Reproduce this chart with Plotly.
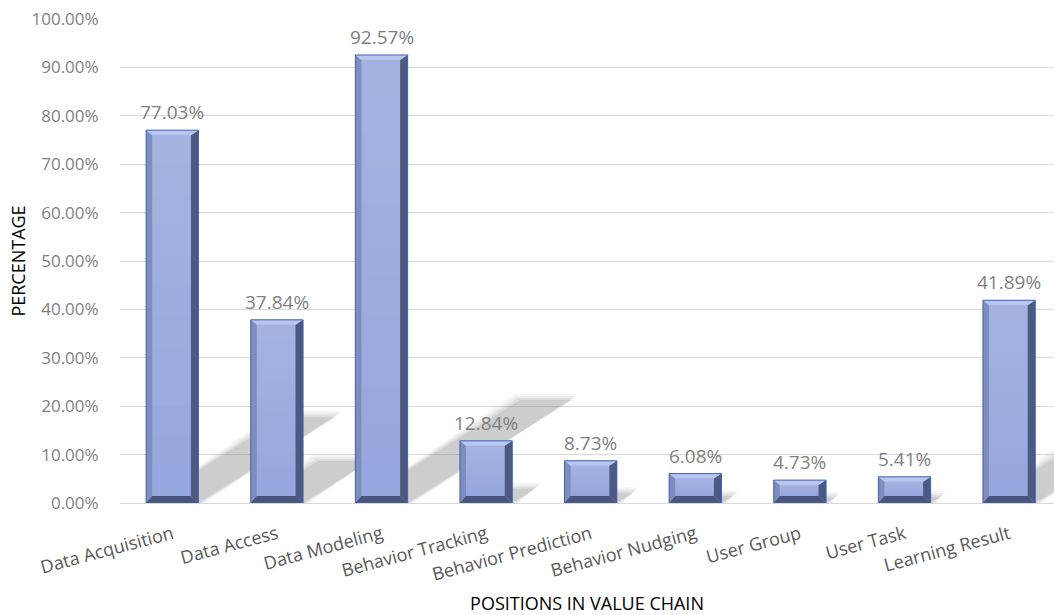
import plotly.graph_objects as go

# Share of reviewed studies touching each position in the value chain
categories = [
    "Data Acquisition", "Data Access", "Data Modeling", "Behavior Tracking",
    "Behavior Prediction", "Behavior Nudging", "User Group", "User Task",
    "Learning Result",
]
shares = [0.7703, 0.3784, 0.9257, 0.1284, 0.0873, 0.0608, 0.0473, 0.0541, 0.4189]
y_ticks = [i / 10 for i in range(11)]

# Styling
BAR_WIDTH = 0.5
FACE = "#93A6DF"
EDGE = "#3F63B0"
BEVEL_LEFT = "#7E8DBE"
BEVEL_RIGHT = "#4E5981"
BEVEL_BOTTOM = "#4A547C"
BEVEL_TOP = "#BAC6F0"
GRID = "#D9D9D9"
TEXT_GREY = "#7F7F7F"
LABEL_GREY = "#595959"
FONT = "Open Sans"

W, H = 1054, 615
M_L, M_R, M_T, M_B = 120, 0, 19, 112
plot_w = W - M_L - M_R
plot_h = H - M_T - M_B
cat_px = 104.6                      # pixels per category slot
x_range = [-0.5, -0.5 + plot_w / cat_px]
px_x = 1 / cat_px                   # one pixel in x data units
px_y = 1 / plot_h                   # one pixel in y data units

# bevel sizes in pixels
bl, br, bt, bb = 6, 7.5, 5, 7

shapes = []
annotations = []


def path(points):
    return "M " + " L ".join(f"{x:.5f},{y:.5f}" for x, y in points) + " Z"


for i, v in enumerate(shares):
    xl = i - BAR_WIDTH / 2
    xr = i + BAR_WIDTH / 2

    # soft drop shadow cast up and to the right
    dx = 1.7 * v
    dy = 0.23 * v
    for grow, alpha in ((6, 0.06), (4, 0.08), (2, 0.11), (0, 0.14)):
        gx = grow * px_x
        gy = grow * px_y
        shapes.append(dict(
            type="path", xref="x", yref="y", layer="between",
            path=path([(xl, 0), (xr + gx, 0), (xr + dx + gx, dy + gy),
                       (xl + dx - gx, dy + gy)]),
            fillcolor=f"rgba(110,110,110,{alpha})", line=dict(width=0),
        ))

    # bevelled edges of the bar
    il = xl + bl * px_x
    ir = xr - br * px_x
    it = v - bt * px_y
    ib = bb * px_y
    # face shading: gradually lighter towards the top
    steps = 12
    for j in range(steps):
        y0 = ib + (it - ib) * j / steps
        shapes.append(dict(
            type="rect", xref="x", yref="y", layer="above",
            x0=il, x1=ir, y0=y0, y1=it,
            fillcolor="rgba(255,255,255,0.02)", line=dict(width=0),
        ))
    bevels = [
        ([(xl, 0), (xl, v), (il, it), (il, ib)], BEVEL_LEFT),
        ([(xr, 0), (xr, v), (ir, it), (ir, ib)], BEVEL_RIGHT),
        ([(xl, 0), (xr, 0), (ir, ib), (il, ib)], BEVEL_BOTTOM),
        ([(xl, v), (xr, v), (ir, it), (il, it)], BEVEL_TOP),
    ]
    for pts, col in bevels:
        shapes.append(dict(
            type="path", xref="x", yref="y", layer="above",
            path=path(pts), fillcolor=col, line=dict(width=0),
        ))
    # bar outline
    shapes.append(dict(
        type="rect", xref="x", yref="y", layer="above",
        x0=xl, x1=xr, y0=0, y1=v,
        line=dict(color=EDGE, width=1), fillcolor="rgba(0,0,0,0)",
    ))

    # value label above the bar
    annotations.append(dict(
        x=i, y=v, xref="x", yref="y", text=f"{v * 100:.2f}%",
        showarrow=False, yanchor="bottom", yshift=3,
        font=dict(family=FONT, size=19, color=TEXT_GREY),
    ))

fig = go.Figure()
fig.add_trace(go.Bar(
    x=list(range(len(categories))),
    y=shares,
    width=BAR_WIDTH,
    marker=dict(color=FACE, line=dict(width=0)),
    hoverinfo="skip",
))

fig.update_layout(
    width=W, height=H,
    margin=dict(l=M_L, r=M_R, t=M_T, b=M_B),
    plot_bgcolor="white",
    paper_bgcolor="white",
    showlegend=False,
    shapes=shapes,
    annotations=annotations,
    font=dict(family=FONT),
    xaxis=dict(
        range=x_range,
        tickvals=list(range(len(categories))),
        ticktext=categories,
        tickangle=-15,
        tickfont=dict(family=FONT, size=18, color=LABEL_GREY),
        showgrid=False,
        zeroline=False,
        showline=True,
        linecolor=GRID,
        linewidth=1,
        ticks="outside",
        ticklen=13,
        tickcolor="rgba(0,0,0,0)",
        title=dict(text="POSITIONS IN VALUE CHAIN",
                   font=dict(family=FONT, size=18, color="#000000"),
                   standoff=14),
    ),
    yaxis=dict(
        range=[0, 1],
        tickvals=y_ticks,
        tickformat=".2%",
        tickfont=dict(family=FONT, size=17, color=TEXT_GREY),
        showgrid=True,
        gridcolor=GRID,
        gridwidth=1,
        zeroline=False,
        showline=False,
        ticks="outside",
        ticklen=17,
        tickcolor="rgba(0,0,0,0)",
        title=dict(text="PERCENTAGE",
                   font=dict(family=FONT, size=18, color="#000000"),
                   standoff=1),
    ),
)

fig.write_html("out.html")
